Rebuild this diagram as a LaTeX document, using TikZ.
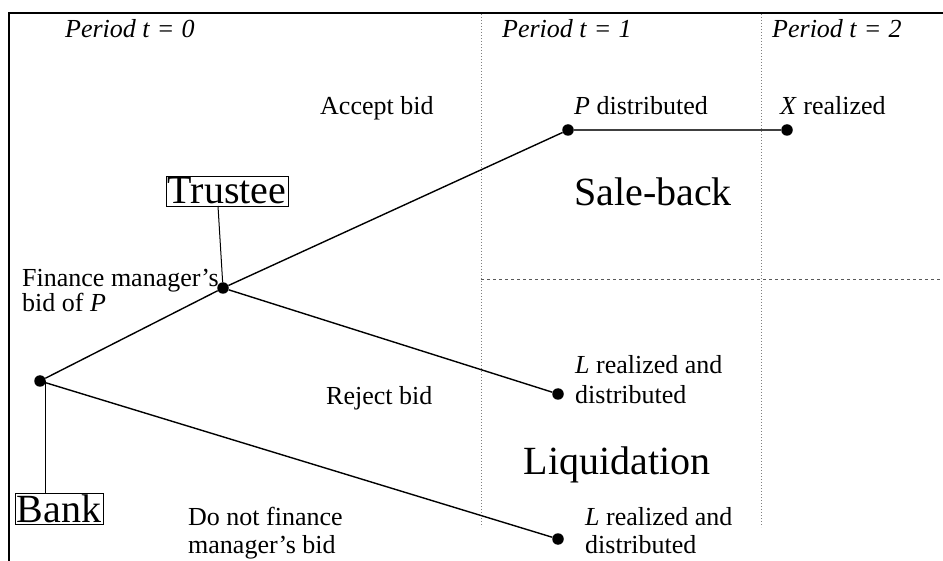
\documentclass[tikz,border=0pt]{standalone}
\usepackage{fontspec}
\setmainfont{Liberation Serif}
\usetikzlibrary{positioning,calc}
\tikzset{
  dot/.style={circle, fill=black, inner sep=0pt, minimum size=11.5pt},
  txt/.style={inner sep=0pt, align=left, anchor=base west, font=\fontsize{26}{30}\selectfont},
  big/.style={inner sep=0pt, font=\fontsize{40}{44}\selectfont},
  player/.style={draw, thin, inner sep=1.5pt, font=\fontsize{40}{44}\selectfont},
  branch/.style={line width=1.4pt},
  sep/.style={draw=gray, dotted, line width=1pt},
}

\begin{document}
\begin{tikzpicture}[x=1pt, y=-1pt]
  \useasboundingbox (0,0) rectangle (943,561);
  % FRAME
  \draw[line width=2.8pt] (9,561) -- (9,13) -- (943,13);
  % PERIOD SEPARATORS
  \draw[sep] (481,14) -- (481,527);
  \draw[sep] (761,14) -- (761,527);
  \draw[dashed, line width=0.8pt, gray!70!black] (481,279) -- (943,279);

  % PERIOD HEADINGS
  \node[txt] (p0) at (65,38) {\textit{Period t\;=\;0}};
  \node[txt] (p1) at (502,38) {\textit{Period t\;=\;1}};
  \node[txt] (p2) at (772,38) {\textit{Period t\;=\;2}};

  % DECISION NODES
  \node[dot] (bank) at (40,381) {};
  \node[dot] (trustee) at (223,288) {};
  \node[dot] (pdist) at (568,130) {};
  \node[dot] (xreal) at (787,130) {};
  \node[dot] (reject) at (558,394) {};
  \node[dot] (nofin) at (558,539) {};

  % PLAYERS
  \node[player] (trusteebox) at (227,191) {Trustee};
  \node[player] (bankbox) at (59,509) {Bank};
  \draw[line width=1pt] ([xshift=-9pt]trusteebox.south) -- (trustee);
  \draw[line width=1pt] ([xshift=5pt]bank.center) -- ([xshift=-14pt]bankbox.north);

  % BRANCHES
  \draw[branch] (bank) -- (trustee) -- (pdist);
  \draw[branch, black!75] (pdist) -- (xreal);
  \draw[branch] (trustee) -- (reject);
  \draw[branch] (bank) -- (nofin);

  % LABELS
  \node[txt] (accept) at (320,115) {Accept bid};
  \node[txt] (plab) at (574,115) {\textit{P} distributed};
  \node[txt] (xlab) at (780,115) {\textit{X} realized};
  \node[big] (sale) at (653,192) {Sale-back};
  \node[txt] (bid) at (22,312) {Finance manager's\\[-5pt]bid of \textit{P}};
  \node[txt] (rej) at (326,404) {Reject bid};
  \node[txt] (llab1) at (575,403) {\textit{L} realized and\\distributed};
  \node[big] (liq) at (617,465) {Liquidation};
  \node[txt] (nof) at (188,553) {Do not finance\\[-2pt]manager's bid};
  \node[txt] (llab2) at (585,553) {\textit{L} realized and\\[-2pt]distributed};
\end{tikzpicture}
\end{document}
